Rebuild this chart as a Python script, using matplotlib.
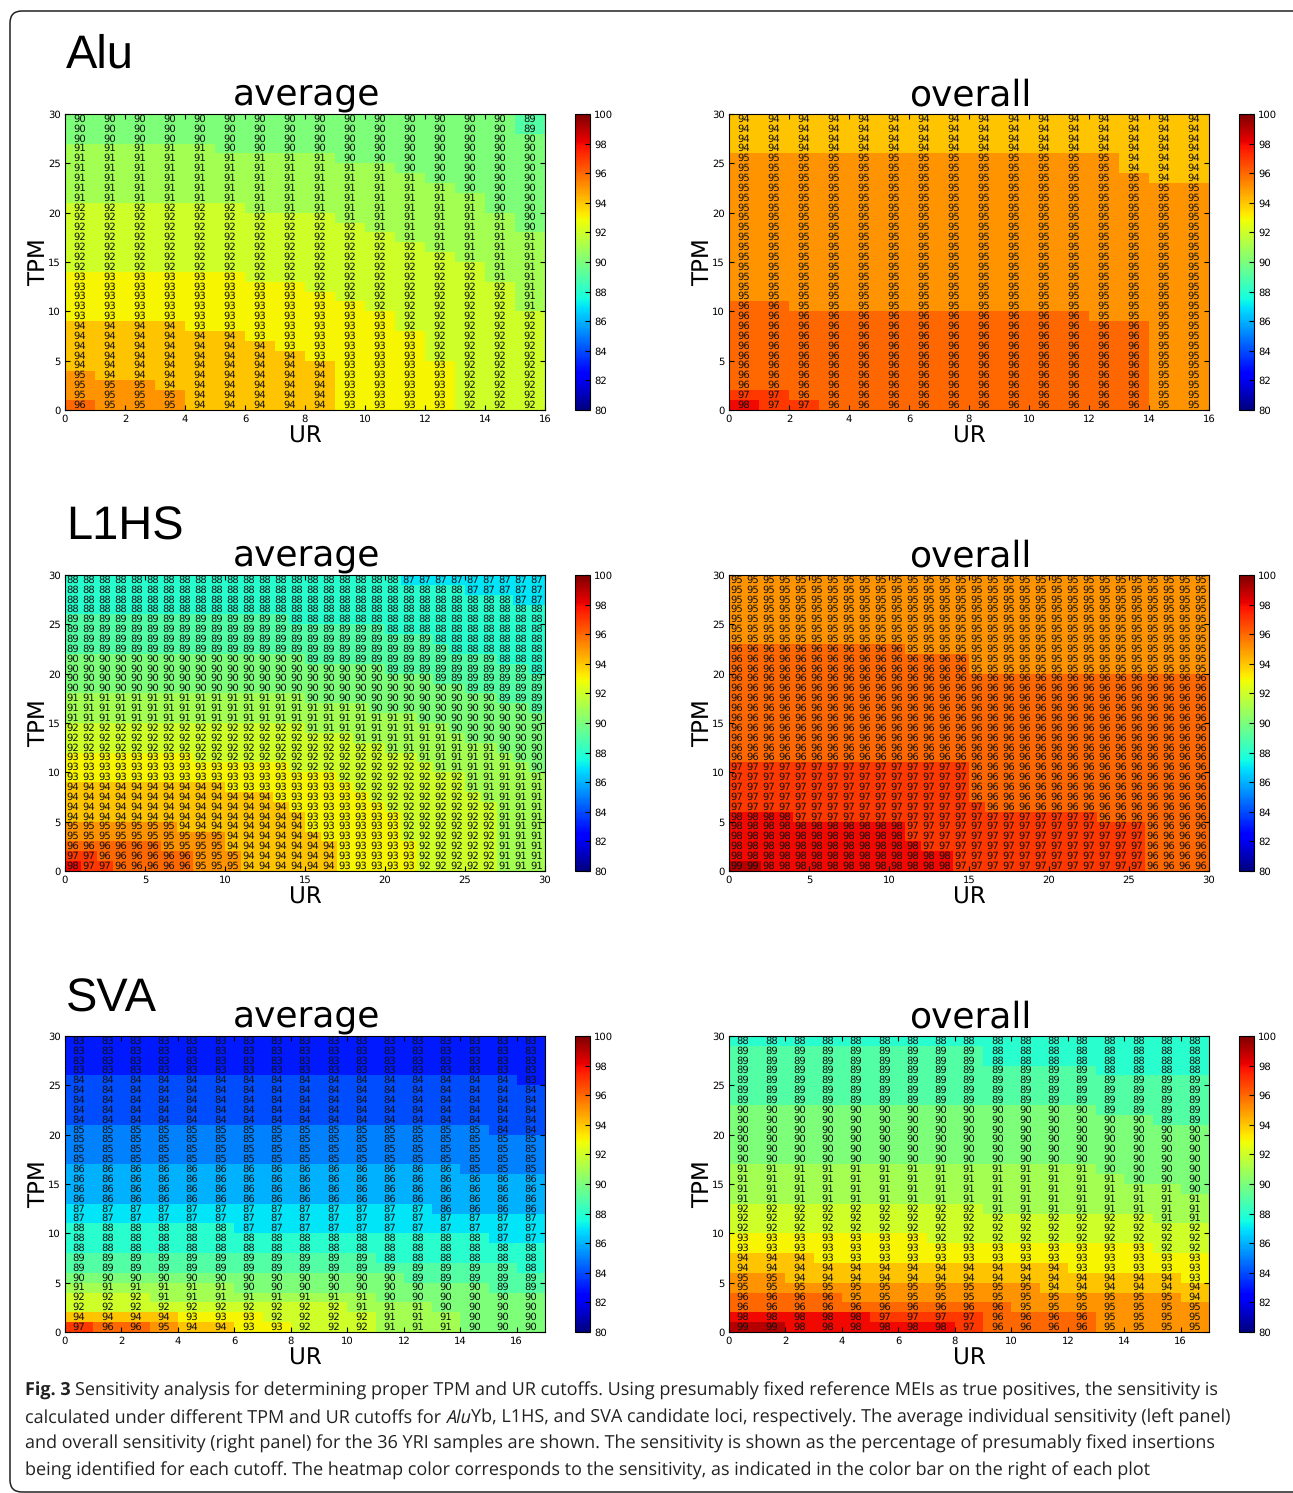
import numpy as np
import matplotlib
matplotlib.use("Agg")
import matplotlib.pyplot as plt
from matplotlib.patches import FancyBboxPatch

plt.rcParams["text.hinting"] = "no_hinting"
plt.rcParams["text.hinting_factor"] = 1

W = 1293
H = 1493

# sensitivity tables, rows listed from TPM 29 (top) down to TPM 0 (bottom)
alu_average = [
    "90 90 90 90 90 90 90 90 90 90 90 90 90 90 90 89",
    "90 90 90 90 90 90 90 90 90 90 90 90 90 90 90 89",
    "90 90 90 90 90 90 90 90 90 90 90 90 90 90 90 90",
    "91 91 91 91 91 90 90 90 90 90 90 90 90 90 90 90",
    "91 91 91 91 91 91 91 91 91 90 90 90 90 90 90 90",
    "91 91 91 91 91 91 91 91 91 91 91 90 90 90 90 90",
    "91 91 91 91 91 91 91 91 91 91 91 91 90 90 90 90",
    "91 91 91 91 91 91 91 91 91 91 91 91 91 90 90 90",
    "91 91 91 91 91 91 91 91 91 91 91 91 91 91 90 90",
    "92 92 92 92 92 92 91 91 91 91 91 91 91 91 90 90",
    "92 92 92 92 92 92 92 92 92 91 91 91 91 91 91 90",
    "92 92 92 92 92 92 92 92 92 92 91 91 91 91 91 90",
    "92 92 92 92 92 92 92 92 92 92 92 91 91 91 91 91",
    "92 92 92 92 92 92 92 92 92 92 92 92 91 91 91 91",
    "92 92 92 92 92 92 92 92 92 92 92 92 92 91 91 91",
    "92 92 92 92 92 92 92 92 92 92 92 92 92 92 91 91",
    "93 93 93 93 93 93 92 92 92 92 92 92 92 92 91 91",
    "93 93 93 93 93 93 93 93 92 92 92 92 92 92 92 91",
    "93 93 93 93 93 93 93 93 93 92 92 92 92 92 92 91",
    "93 93 93 93 93 93 93 93 93 93 92 92 92 92 92 91",
    "93 93 93 93 93 93 93 93 93 93 93 92 92 92 92 92",
    "94 94 94 94 93 93 93 93 93 93 93 92 92 92 92 92",
    "94 94 94 94 94 94 93 93 93 93 93 93 92 92 92 92",
    "94 94 94 94 94 94 94 93 93 93 93 93 92 92 92 92",
    "94 94 94 94 94 94 94 94 93 93 93 93 92 92 92 92",
    "94 94 94 94 94 94 94 94 94 93 93 93 93 92 92 92",
    "95 94 94 94 94 94 94 94 94 93 93 93 93 92 92 92",
    "95 95 95 94 94 94 94 94 94 93 93 93 93 92 92 92",
    "95 95 95 95 94 94 94 94 94 93 93 93 93 92 92 92",
    "96 95 95 95 94 94 94 94 94 93 93 93 93 92 92 92",
]
alu_overall = [
    "94 94 94 94 94 94 94 94 94 94 94 94 94 94 94 94",
    "94 94 94 94 94 94 94 94 94 94 94 94 94 94 94 94",
    "94 94 94 94 94 94 94 94 94 94 94 94 94 94 94 94",
    "94 94 94 94 94 94 94 94 94 94 94 94 94 94 94 94",
    "95 95 95 95 95 95 95 95 95 95 95 95 95 94 94 94",
    "95 95 95 95 95 95 95 95 95 95 95 95 95 94 94 94",
    "95 95 95 95 95 95 95 95 95 95 95 95 95 95 94 94",
    "95 95 95 95 95 95 95 95 95 95 95 95 95 95 95 95",
    "95 95 95 95 95 95 95 95 95 95 95 95 95 95 95 95",
    "95 95 95 95 95 95 95 95 95 95 95 95 95 95 95 95",
    "95 95 95 95 95 95 95 95 95 95 95 95 95 95 95 95",
    "95 95 95 95 95 95 95 95 95 95 95 95 95 95 95 95",
    "95 95 95 95 95 95 95 95 95 95 95 95 95 95 95 95",
    "95 95 95 95 95 95 95 95 95 95 95 95 95 95 95 95",
    "95 95 95 95 95 95 95 95 95 95 95 95 95 95 95 95",
    "95 95 95 95 95 95 95 95 95 95 95 95 95 95 95 95",
    "95 95 95 95 95 95 95 95 95 95 95 95 95 95 95 95",
    "95 95 95 95 95 95 95 95 95 95 95 95 95 95 95 95",
    "95 95 95 95 95 95 95 95 95 95 95 95 95 95 95 95",
    "96 96 95 95 95 95 95 95 95 95 95 95 95 95 95 95",
    "96 96 96 96 96 96 96 96 96 96 96 96 95 95 95 95",
    "96 96 96 96 96 96 96 96 96 96 96 96 96 96 95 95",
    "96 96 96 96 96 96 96 96 96 96 96 96 96 96 95 95",
    "96 96 96 96 96 96 96 96 96 96 96 96 96 96 95 95",
    "96 96 96 96 96 96 96 96 96 96 96 96 96 96 95 95",
    "96 96 96 96 96 96 96 96 96 96 96 96 96 96 95 95",
    "96 96 96 96 96 96 96 96 96 96 96 96 96 96 95 95",
    "96 96 96 96 96 96 96 96 96 96 96 96 96 96 95 95",
    "97 97 96 96 96 96 96 96 96 96 96 96 96 96 95 95",
    "98 97 97 96 96 96 96 96 96 96 96 96 96 96 95 95",
]
l1hs_average = [
    "88 88 88 88 88 88 88 88 88 88 88 88 88 88 88 88 88 88 88 88 88 87 87 87 87 87 87 87 87 87",
    "88 88 88 88 88 88 88 88 88 88 88 88 88 88 88 88 88 88 88 88 88 88 88 88 88 87 87 87 87 87",
    "88 88 88 88 88 88 88 88 88 88 88 88 88 88 88 88 88 88 88 88 88 88 88 88 88 88 88 88 87 87",
    "88 88 88 88 88 88 88 88 88 88 88 88 88 88 88 88 88 88 88 88 88 88 88 88 88 88 88 88 88 88",
    "89 89 89 89 89 89 89 89 89 89 89 89 89 89 88 88 88 88 88 88 88 88 88 88 88 88 88 88 88 88",
    "89 89 89 89 89 89 89 89 89 89 89 89 89 89 89 89 89 89 89 89 88 88 88 88 88 88 88 88 88 88",
    "89 89 89 89 89 89 89 89 89 89 89 89 89 89 89 89 89 89 89 89 89 89 89 88 88 88 88 88 88 88",
    "89 89 89 89 89 89 89 89 89 89 89 89 89 89 89 89 89 89 89 89 89 89 89 89 88 88 88 88 88 88",
    "90 90 90 90 90 90 90 90 90 90 90 90 90 90 90 89 89 89 89 89 89 89 89 89 89 89 89 88 88 88",
    "90 90 90 90 90 90 90 90 90 90 90 90 90 90 90 90 90 90 90 90 89 89 89 89 89 89 89 89 89 88",
    "90 90 90 90 90 90 90 90 90 90 90 90 90 90 90 90 90 90 90 90 90 90 90 89 89 89 89 89 89 89",
    "90 90 90 90 90 90 90 90 90 90 90 90 90 90 90 90 90 90 90 90 90 90 90 90 90 89 89 89 89 89",
    "91 91 91 91 91 91 91 91 91 91 91 91 91 91 91 90 90 90 90 90 90 90 90 90 90 90 90 89 89 89",
    "91 91 91 91 91 91 91 91 91 91 91 91 91 91 91 91 91 91 91 90 90 90 90 90 90 90 90 90 90 89",
    "91 91 91 91 91 91 91 91 91 91 91 91 91 91 91 91 91 91 91 91 91 91 90 90 90 90 90 90 90 90",
    "92 92 92 92 92 92 92 92 92 92 92 92 92 92 92 91 91 91 91 91 91 91 91 91 90 90 90 90 90 90",
    "92 92 92 92 92 92 92 92 92 92 92 92 92 92 92 92 92 92 91 91 91 91 91 91 91 90 90 90 90 90",
    "92 92 92 92 92 92 92 92 92 92 92 92 92 92 92 92 92 92 92 92 91 91 91 91 91 91 91 90 90 90",
    "93 93 93 93 93 93 93 93 92 92 92 92 92 92 92 92 92 92 92 92 92 92 91 91 91 91 91 91 90 90",
    "93 93 93 93 93 93 93 93 93 93 93 93 93 93 92 92 92 92 92 92 92 92 92 91 91 91 91 91 91 90",
    "93 93 93 93 93 93 93 93 93 93 93 93 93 93 93 93 93 92 92 92 92 92 92 92 92 91 91 91 91 91",
    "94 94 94 94 94 94 94 94 94 94 93 93 93 93 93 93 93 93 92 92 92 92 92 92 92 91 91 91 91 91",
    "94 94 94 94 94 94 94 94 94 94 94 94 94 93 93 93 93 93 93 92 92 92 92 92 92 92 91 91 91 91",
    "94 94 94 94 94 94 94 94 94 94 94 94 94 94 93 93 93 93 93 93 92 92 92 92 92 92 92 91 91 91",
    "94 94 94 94 94 94 94 94 94 94 94 94 94 94 94 93 93 93 93 93 93 92 92 92 92 92 92 91 91 91",
    "95 95 95 95 95 95 95 94 94 94 94 94 94 94 94 93 93 93 93 93 93 92 92 92 92 92 92 91 91 91",
    "95 95 95 95 95 95 95 95 95 95 94 94 94 94 94 94 93 93 93 93 93 92 92 92 92 92 92 91 91 91",
    "96 96 96 96 96 96 95 95 95 95 94 94 94 94 94 94 94 93 93 93 93 93 92 92 92 92 92 91 91 91",
    "97 97 96 96 96 96 96 96 95 95 95 94 94 94 94 94 94 93 93 93 93 93 92 92 92 92 92 91 91 91",
    "98 97 97 96 96 96 96 96 95 95 95 94 94 94 94 94 94 93 93 93 93 93 92 92 92 92 92 91 91 91",
]
l1hs_overall = [
    "95 95 95 95 95 95 95 95 95 95 95 95 95 95 95 95 95 95 95 95 95 95 95 95 95 95 95 95 95 95",
    "95 95 95 95 95 95 95 95 95 95 95 95 95 95 95 95 95 95 95 95 95 95 95 95 95 95 95 95 95 95",
    "95 95 95 95 95 95 95 95 95 95 95 95 95 95 95 95 95 95 95 95 95 95 95 95 95 95 95 95 95 95",
    "95 95 95 95 95 95 95 95 95 95 95 95 95 95 95 95 95 95 95 95 95 95 95 95 95 95 95 95 95 95",
    "95 95 95 95 95 95 95 95 95 95 95 95 95 95 95 95 95 95 95 95 95 95 95 95 95 95 95 95 95 95",
    "95 95 95 95 95 95 95 95 95 95 95 95 95 95 95 95 95 95 95 95 95 95 95 95 95 95 95 95 95 95",
    "95 95 95 95 95 95 95 95 95 95 95 95 95 95 95 95 95 95 95 95 95 95 95 95 95 95 95 95 95 95",
    "96 96 96 96 96 96 96 96 96 96 96 95 95 95 95 95 95 95 95 95 95 95 95 95 95 95 95 95 95 95",
    "96 96 96 96 96 96 96 96 96 96 96 96 96 96 96 95 95 95 95 95 95 95 95 95 95 95 95 95 95 95",
    "96 96 96 96 96 96 96 96 96 96 96 96 96 96 96 95 95 95 95 95 95 95 95 95 95 95 95 95 95 95",
    "96 96 96 96 96 96 96 96 96 96 96 96 96 96 96 96 96 96 96 96 96 96 96 96 96 96 96 96 96 96",
    "96 96 96 96 96 96 96 96 96 96 96 96 96 96 96 96 96 96 96 96 96 96 96 96 96 96 96 96 96 96",
    "96 96 96 96 96 96 96 96 96 96 96 96 96 96 96 96 96 96 96 96 96 96 96 96 96 96 96 96 96 96",
    "96 96 96 96 96 96 96 96 96 96 96 96 96 96 96 96 96 96 96 96 96 96 96 96 96 96 96 96 96 96",
    "96 96 96 96 96 96 96 96 96 96 96 96 96 96 96 96 96 96 96 96 96 96 96 96 96 96 96 96 96 96",
    "96 96 96 96 96 96 96 96 96 96 96 96 96 96 96 96 96 96 96 96 96 96 96 96 96 96 96 96 96 96",
    "96 96 96 96 96 96 96 96 96 96 96 96 96 96 96 96 96 96 96 96 96 96 96 96 96 96 96 96 96 96",
    "96 96 96 96 96 96 96 96 96 96 96 96 96 96 96 96 96 96 96 96 96 96 96 96 96 96 96 96 96 96",
    "96 96 96 96 96 96 96 96 96 96 96 96 96 96 96 96 96 96 96 96 96 96 96 96 96 96 96 96 96 96",
    "97 97 97 97 97 97 97 97 97 97 97 97 97 97 97 96 96 96 96 96 96 96 96 96 96 96 96 96 96 96",
    "97 97 97 97 97 97 97 97 97 97 97 97 97 97 97 96 96 96 96 96 96 96 96 96 96 96 96 96 96 96",
    "97 97 97 97 97 97 97 97 97 97 97 97 97 97 97 96 96 96 96 96 96 96 96 96 96 96 96 96 96 96",
    "97 97 97 97 97 97 97 97 97 97 97 97 97 97 97 96 96 96 96 96 96 96 96 96 96 96 96 96 96 96",
    "97 97 97 97 97 97 97 97 97 97 97 97 97 97 97 97 96 96 96 96 96 96 96 96 96 96 96 96 96 96",
    "98 98 98 98 97 97 97 97 97 97 97 97 97 97 97 97 97 97 97 97 97 97 97 96 96 96 96 96 96 96",
    "98 98 98 98 98 98 98 98 98 98 98 97 97 97 97 97 97 97 97 97 97 97 97 97 97 97 96 96 96 96",
    "98 98 98 98 98 98 98 98 98 98 98 97 97 97 97 97 97 97 97 97 97 97 97 97 97 97 96 96 96 96",
    "98 98 98 98 98 98 98 98 98 98 98 98 97 97 97 97 97 97 97 97 97 97 97 97 97 97 96 96 96 96",
    "98 98 98 98 98 98 98 98 98 98 98 98 98 98 97 97 97 97 97 97 97 97 97 97 97 97 96 96 96 96",
    "99 99 98 98 98 98 98 98 98 98 98 98 98 98 97 97 97 97 97 97 97 97 97 97 97 97 96 96 96 96",
]
sva_average = [
    "83 83 83 83 83 83 83 83 83 83 83 83 83 83 83 83 83",
    "83 83 83 83 83 83 83 83 83 83 83 83 83 83 83 83 83",
    "83 83 83 83 83 83 83 83 83 83 83 83 83 83 83 83 83",
    "83 83 83 83 83 83 83 83 83 83 83 83 83 83 83 83 83",
    "84 84 84 84 84 84 84 84 84 84 84 84 84 84 84 84 83",
    "84 84 84 84 84 84 84 84 84 84 84 84 84 84 84 84 84",
    "84 84 84 84 84 84 84 84 84 84 84 84 84 84 84 84 84",
    "84 84 84 84 84 84 84 84 84 84 84 84 84 84 84 84 84",
    "84 84 84 84 84 84 84 84 84 84 84 84 84 84 84 84 84",
    "85 85 85 85 85 85 85 85 85 85 85 85 85 85 85 84 84",
    "85 85 85 85 85 85 85 85 85 85 85 85 85 85 85 85 85",
    "85 85 85 85 85 85 85 85 85 85 85 85 85 85 85 85 85",
    "85 85 85 85 85 85 85 85 85 85 85 85 85 85 85 85 85",
    "86 86 86 86 86 86 86 86 86 86 86 86 86 86 85 85 85",
    "86 86 86 86 86 86 86 86 86 86 86 86 86 86 86 86 86",
    "86 86 86 86 86 86 86 86 86 86 86 86 86 86 86 86 86",
    "86 86 86 86 86 86 86 86 86 86 86 86 86 86 86 86 86",
    "87 87 87 87 87 87 87 87 87 87 87 87 87 86 86 86 86",
    "87 87 87 87 87 87 87 87 87 87 87 87 87 87 87 87 87",
    "88 88 88 88 88 88 87 87 87 87 87 87 87 87 87 87 87",
    "88 88 88 88 88 88 88 88 88 88 88 88 88 88 88 87 87",
    "88 88 88 88 88 88 88 88 88 88 88 88 88 88 88 88 88",
    "89 89 89 89 89 89 89 89 89 89 89 88 88 88 88 88 88",
    "89 89 89 89 89 89 89 89 89 89 89 89 89 89 89 89 88",
    "90 90 90 90 90 90 90 90 90 90 90 90 89 89 89 89 89",
    "91 91 91 91 91 91 90 90 90 90 90 90 90 90 90 89 89",
    "92 92 92 91 91 91 91 91 91 91 91 90 90 90 90 90 90",
    "92 92 92 92 92 92 92 92 92 92 91 91 91 90 90 90 90",
    "94 94 94 94 93 93 93 92 92 92 92 91 91 91 90 90 90",
    "97 96 96 95 94 94 93 93 92 92 92 91 91 91 90 90 90",
]
sva_overall = [
    "88 88 88 88 88 88 88 88 88 88 88 88 88 88 88 88 88",
    "89 89 89 89 89 89 89 89 89 88 88 88 88 88 88 88 88",
    "89 89 89 89 89 89 89 89 89 88 88 88 88 88 88 88 88",
    "89 89 89 89 89 89 89 89 89 89 89 89 89 88 88 88 88",
    "89 89 89 89 89 89 89 89 89 89 89 89 89 89 89 89 89",
    "89 89 89 89 89 89 89 89 89 89 89 89 89 89 89 89 89",
    "89 89 89 89 89 89 89 89 89 89 89 89 89 89 89 89 89",
    "90 90 90 90 90 90 90 90 90 90 90 90 90 89 89 89 89",
    "90 90 90 90 90 90 90 90 90 90 90 90 90 90 90 89 89",
    "90 90 90 90 90 90 90 90 90 90 90 90 90 90 90 90 90",
    "90 90 90 90 90 90 90 90 90 90 90 90 90 90 90 90 90",
    "90 90 90 90 90 90 90 90 90 90 90 90 90 90 90 90 90",
    "90 90 90 90 90 90 90 90 90 90 90 90 90 90 90 90 90",
    "91 91 91 91 91 91 91 91 91 91 91 91 91 90 90 90 90",
    "91 91 91 91 91 91 91 91 91 91 91 91 91 91 90 90 90",
    "91 91 91 91 91 91 91 91 91 91 91 91 91 91 91 91 90",
    "91 91 91 91 91 91 91 91 91 91 91 91 91 91 91 91 91",
    "92 92 92 92 92 92 92 92 92 91 91 91 91 91 91 91 91",
    "92 92 92 92 92 92 92 92 92 92 92 92 92 92 92 91 91",
    "92 92 92 92 92 92 92 92 92 92 92 92 92 92 92 92 92",
    "93 93 93 93 93 93 93 92 92 92 92 92 92 92 92 92 92",
    "93 93 93 93 93 93 93 93 93 93 93 93 93 93 93 92 92",
    "94 94 94 93 93 93 93 93 93 93 93 93 93 93 93 93 93",
    "94 94 94 94 94 94 94 94 94 94 94 94 93 93 93 93 93",
    "95 95 94 94 94 94 94 94 94 94 94 94 94 94 94 94 93",
    "95 95 95 95 95 95 95 95 95 95 95 94 94 94 94 94 94",
    "96 96 96 96 95 95 95 95 95 95 95 95 95 95 95 95 94",
    "96 96 96 96 96 96 96 96 96 96 95 95 95 95 95 95 95",
    "98 98 98 98 98 97 97 97 97 96 96 96 96 95 95 95 95",
    "99 99 98 98 98 98 98 98 97 96 96 96 96 95 95 95 95",
]

colorbar_ticks = list(range(80, 101, 2))
tpm_ticks = [0, 5, 10, 15, 20, 25, 30]
ur_ticks_short = [0, 2, 4, 6, 8, 10, 12, 14, 16]
ur_ticks_long = [0, 5, 10, 15, 20, 25, 30]

# family label, tables, x ticks, top edge of the axes in pixels
rows = [
    ("Alu", alu_average, alu_overall, ur_ticks_short, 114, 68),
    ("L1HS", l1hs_average, l1hs_overall, ur_ticks_long, 575, 540),
    ("SVA", sva_average, sva_overall, ur_ticks_short, 1036, 1012),
]

caption = [
    [("Fig. 3 ", "bold"), ("Sensitivity analysis for determining proper TPM and UR cutoffs. Using presumably fixed reference MEIs as true positives, the sensitivity is", "normal")],
    [("calculated under different TPM and UR cutoffs for ", "normal"), ("Alu", "italic"), ("Yb, L1HS, and SVA candidate loci, respectively. The average individual sensitivity (left panel)", "normal")],
    [("and overall sensitivity (right panel) for the 36 YRI samples are shown. The sensitivity is shown as the percentage of presumably fixed insertions", "normal")],
    [("being identified for each cutoff. The heatmap color corresponds to the sensitivity, as indicated in the color bar on the right of each plot", "normal")],
]


def px_axes(fig, left, top, width, height):
    return fig.add_axes([left / W, 1 - (top + height) / H, width / W, height / H])


def heatmap(fig, table, left, top, xticks, name):
    values = np.array([r.split() for r in table], dtype=int)[::-1]
    ax = px_axes(fig, left, top, 480, 296)
    mesh = ax.pcolormesh(values, cmap="jet", vmin=80, vmax=100)
    for i in range(values.shape[0]):
        for j in range(values.shape[1]):
            ax.text(j + 0.5, i + 0.5, str(values[i, j]), ha="center", va="center", fontsize=7.4, color="#111111")
    ax.set_xlim(0, values.shape[1])
    ax.set_ylim(0, 30)
    ax.set_xticks(xticks)
    ax.set_yticks(tpm_ticks)
    ax.tick_params(direction="in", top=True, right=True, length=3.5, width=0.8, labelsize=7.5, pad=3)
    ax.set_xlabel("UR", fontsize=16.5, labelpad=0)
    ax.xaxis.set_label_coords(0.5, -0.05)
    ax.set_ylabel("TPM", fontsize=16.5)
    ax.yaxis.set_label_coords(-0.031, 0.5)
    fig.text((left + 241.5) / W, 1 - (top - 9) / H, name, fontsize=25.7, ha="center", va="baseline")

    cax = px_axes(fig, left + 510, top, 15, 296)
    cbar = fig.colorbar(mesh, cax=cax, ticks=colorbar_ticks)
    cbar.ax.tick_params(direction="in", length=3.5, width=0.8, labelsize=7.5, pad=3)
    cbar.outline.set_linewidth(0.8)


fig = plt.figure(figsize=(W / 100, H / 100), dpi=100, facecolor="white")

frame = FancyBboxPatch((10, 1), W + 30, H - 12, boxstyle="round,pad=0,rounding_size=12",
                       facecolor="none", edgecolor="#222222", linewidth=1.1, transform=None)
fig.add_artist(frame)

for label, avg, ovr, xticks, top, base in rows:
    fig.text(66 / W, 1 - base / H, label, fontsize=34, family="Liberation Sans", va="baseline")
    heatmap(fig, avg, 65, top, xticks, "average")
    heatmap(fig, ovr, 729, top, xticks, "overall")

# caption, drawn run by run so bold and italic parts follow on
renderer = fig.canvas.get_renderer()
for line, base in zip(caption, [1396, 1423, 1449, 1476]):
    x = 25
    for piece, style in line:
        t = fig.text(x / W, 1 - base / H, piece, fontsize=13.12, family="Open Sans", va="baseline", color="#222222",
                     fontweight="bold" if style == "bold" else "normal",
                     fontstyle="italic" if style == "italic" else "normal")
        t.set_text(piece.replace(" ", "\u00a0"))
        x = t.get_window_extent(renderer).x1

fig.savefig("out.png", dpi=100)
